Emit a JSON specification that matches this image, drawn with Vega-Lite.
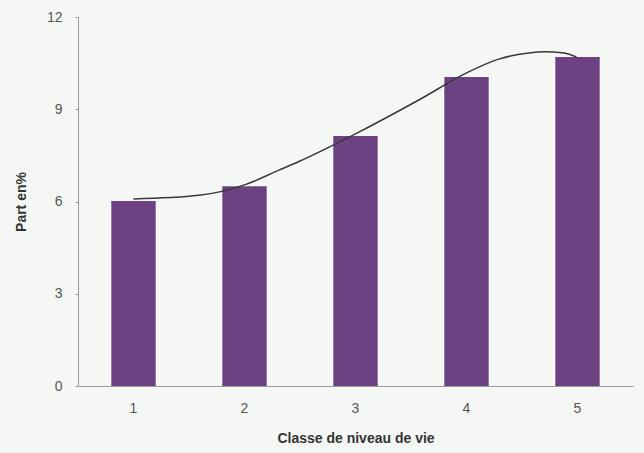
{
  "$schema": "https://vega.github.io/schema/vega-lite/v6.json",
  "width": 555,
  "height": 369,
  "autosize": {"type": "none"},
  "padding": {"left": 78, "top": 17, "right": 11, "bottom": 67},
  "background": "#f4f7f3",
  "config": {"view": {"stroke": null}, "font": "Liberation Sans"},
  "datasets": {
    "bars": [
      {"classe": "1", "part": 6.02},
      {"classe": "2", "part": 6.5},
      {"classe": "3", "part": 8.13},
      {"classe": "4", "part": 10.05},
      {"classe": "5", "part": 10.7}
    ],
    "curve": [
      {"pos": 1.0, "val": 6.08},
      {"pos": 1.59, "val": 6.2},
      {"pos": 2.0, "val": 6.54},
      {"pos": 2.31, "val": 7.02},
      {"pos": 2.49, "val": 7.3},
      {"pos": 3.0, "val": 8.2},
      {"pos": 3.57, "val": 9.3},
      {"pos": 4.01, "val": 10.2},
      {"pos": 4.29, "val": 10.63},
      {"pos": 4.56, "val": 10.83},
      {"pos": 4.7, "val": 10.87},
      {"pos": 4.88, "val": 10.83},
      {"pos": 4.99, "val": 10.7}
    ]
  },
  "layer": [
    {
      "data": {"name": "bars"},
      "mark": {"type": "bar", "color": "#6c4283"},
      "encoding": {
        "x": {
          "field": "classe",
          "type": "ordinal",
          "scale": {"paddingInner": 0.6, "paddingOuter": 0.3},
          "axis": {
            "title": "Classe de niveau de vie",
            "labelAngle": 0,
            "ticks": false,
            "domainColor": "#9a9a9a",
            "labelColor": "#555555",
            "labelFontSize": 14,
            "labelPadding": 15,
            "titleFontSize": 14,
            "titleFontWeight": "bold",
            "titleColor": "#333333",
            "titlePadding": 16
          }
        },
        "y": {
          "field": "part",
          "type": "quantitative",
          "scale": {"domain": [0, 12], "nice": false},
          "axis": {
            "values": [0, 3, 6, 9, 12],
            "grid": false,
            "title": "Part en%",
            "domainColor": "#9a9a9a",
            "tickColor": "#9a9a9a",
            "tickSize": 3,
            "labelColor": "#555555",
            "labelFontSize": 14,
            "labelPadding": 13,
            "titleFontSize": 14,
            "titleFontWeight": "bold",
            "titleColor": "#333333",
            "titlePadding": 18
          }
        }
      }
    },
    {
      "data": {"name": "curve"},
      "mark": {"type": "line", "interpolate": "monotone", "color": "#383838", "strokeWidth": 1.5},
      "encoding": {
        "x": {"field": "pos", "type": "quantitative", "scale": {"domain": [0.5, 5.5], "nice": false, "zero": false}, "axis": null},
        "y": {"field": "val", "type": "quantitative"}
      }
    }
  ],
  "resolve": {"scale": {"x": "independent"}}
}
